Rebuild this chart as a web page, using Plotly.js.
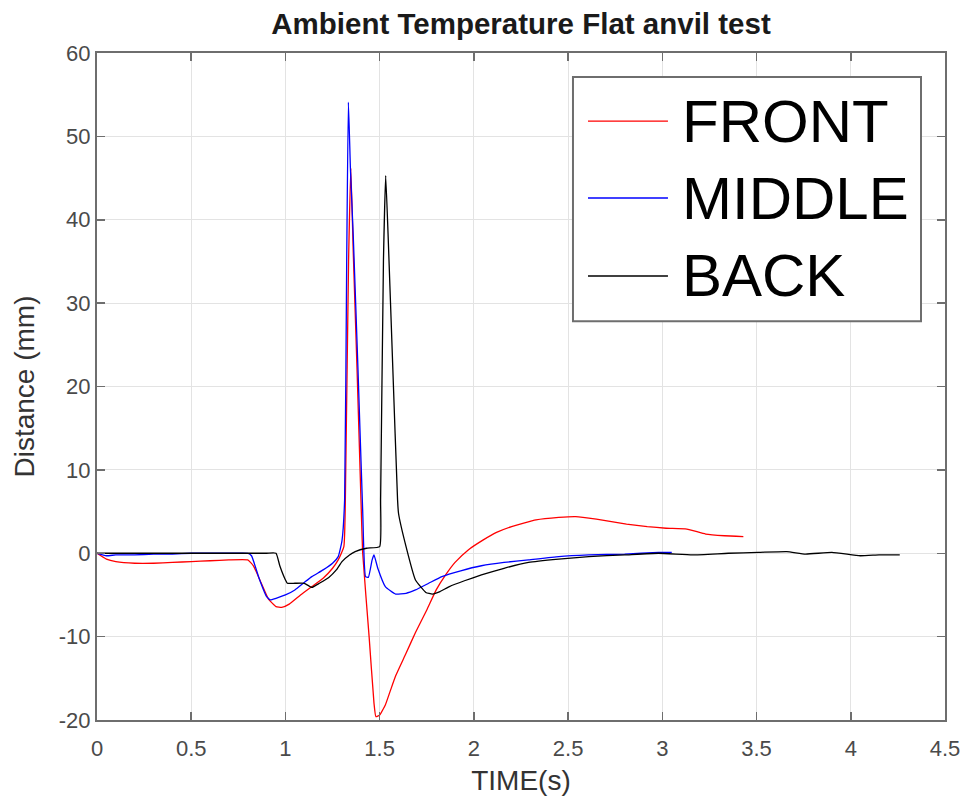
<!DOCTYPE html>
<html>
<head>
<meta charset="utf-8">
<script src="https://cdn.plot.ly/plotly-3.0.1.min.js"></script>
<style>html,body{margin:0;padding:0;background:#fff;}#chart{width:966px;height:798px;}</style>
</head>
<body>
<div id="chart"></div>
<script>
var seriesNames = ["FRONT", "MIDDLE", "BACK"];
var seriesColors = ["#ff0000", "#0000ff", "#000000"];

var frontX = [0,0.05,0.1,0.2,0.3,0.4,0.5,0.6,0.7,0.8,0.83,0.87,0.91,0.95,0.98,1.02,1.08,1.14,1.2,1.25,1.28,1.31,1.32,1.335,1.347,1.36,1.38,1.40,1.41,1.444,1.47,1.48,1.5,1.53,1.555,1.585,1.64,1.69,1.75,1.8,1.85,1.9,1.97,2.05,2.12,2.2,2.33,2.45,2.54,2.65,2.81,2.92,3.02,3.13,3.23,3.33,3.43];
var frontY = [0,-0.7,-1.0,-1.2,-1.2,-1.1,-1.0,-0.9,-0.8,-0.8,-1.5,-3.5,-5.5,-6.4,-6.5,-6.1,-5.0,-4.0,-3.0,-1.8,-0.8,0.8,10,35,46.2,36,22,7,0,-10,-18,-19.6,-19.4,-18.2,-16.6,-14.7,-12,-9.5,-6.8,-4.4,-2.6,-1.1,0.4,1.6,2.5,3.2,4.0,4.3,4.4,4.1,3.5,3.2,3.0,2.9,2.3,2.1,2.0];

var middleX = [0,0.05,0.1,0.2,0.3,0.4,0.5,0.6,0.7,0.8,0.82,0.86,0.9,0.92,0.95,1.0,1.05,1.1,1.14,1.2,1.25,1.28,1.30,1.314,1.325,1.334,1.345,1.36,1.385,1.41,1.425,1.44,1.46,1.47,1.49,1.53,1.585,1.64,1.69,1.76,1.83,1.93,2.04,2.16,2.29,2.45,2.61,2.8,2.98,3.05];
var middleY = [0,-0.3,-0.2,-0.2,-0.1,-0.1,0,0,0,0,-0.3,-3.0,-5.2,-5.6,-5.4,-5.0,-4.4,-3.5,-2.8,-2.0,-1.2,-0.4,1.5,6.4,35,54.1,46,38,22,5,-2.8,-2.9,-0.8,-0.2,-1.8,-4.0,-4.9,-4.8,-4.4,-3.6,-2.8,-2.1,-1.5,-1.1,-0.8,-0.4,-0.2,-0.1,0.1,0.1];

var backX = [0,0.3,0.6,0.9,0.95,0.97,1.0,1.01,1.05,1.10,1.14,1.18,1.23,1.27,1.30,1.34,1.37,1.43,1.50,1.505,1.52,1.532,1.545,1.57,1.595,1.60,1.64,1.69,1.745,1.78,1.82,1.87,1.95,2.04,2.16,2.29,2.45,2.61,2.8,2.98,3.16,3.35,3.51,3.66,3.76,3.9,4.05,4.15,4.26];
var backY = [0,0,0,0,0,-1.5,-3.2,-3.6,-3.6,-3.6,-4.1,-3.6,-2.9,-2.0,-1.0,-0.2,0.2,0.6,0.8,6.4,35,45.3,38,22,6.4,4.8,0.8,-3.2,-4.7,-4.9,-4.6,-4.0,-3.3,-2.6,-1.8,-1.1,-0.7,-0.4,-0.2,0.0,-0.2,0.0,0.1,0.2,-0.1,0.1,-0.3,-0.2,-0.2];

var xTicks = [0,0.5,1,1.5,2,2.5,3,3.5,4,4.5];
var xTickLabels = ["0","0.5","1","1.5","2","2.5","3","3.5","4","4.5"];
var yTicks = [-20,-10,0,10,20,30,40,50,60];
var yTickLabels = ["-20","-10","0","10","20","30","40","50","60"];

var xs = [frontX, middleX, backX];
var ys = [frontY, middleY, backY];
var traces = seriesNames.map(function(n, i){
  return {x: xs[i], y: ys[i], name: n, type: 'scatter', mode: 'lines',
          line: {color: seriesColors[i], width: 1.3, shape: 'spline', smoothing: 0.4}, showlegend: false};
});

var FONT = "Liberation Sans, Arial, Helvetica, sans-serif";
var axisCommon = {
  showgrid: true, gridcolor: '#e3e3e3', gridwidth: 1,
  zeroline: false, showline: true, linecolor: '#6e6e6e', linewidth: 2,
  mirror: 'ticks', ticks: 'inside', ticklen: 8, tickwidth: 1.5, tickcolor: '#6e6e6e',
  tickfont: {family: FONT, size: 22, color: '#4a4a4a'}
};

// manual legend (box, sample lines, labels) in paper coordinates
var legBox = {x0: 0.5613, x1: 0.9717, y0: 0.598, y1: 0.964};
var legLineX = [0.579, 0.6733];
var legRowY = [0.898, 0.7826, 0.6657];
var legTextX = 0.6875;

var shapes = [{type: 'rect', xref: 'paper', yref: 'paper', x0: legBox.x0, x1: legBox.x1, y0: legBox.y0, y1: legBox.y1,
  line: {color: '#6e6e6e', width: 2}, fillcolor: '#ffffff', layer: 'above'}];
var annotations = [];
seriesNames.forEach(function(n, i){
  shapes.push({type: 'line', xref: 'paper', yref: 'paper', x0: legLineX[0], x1: legLineX[1], y0: legRowY[i], y1: legRowY[i],
    line: {color: seriesColors[i], width: 1.3}, layer: 'above'});
  annotations.push({xref: 'paper', yref: 'paper', x: legTextX, y: legRowY[i], xanchor: 'left', yanchor: 'middle',
    text: n, showarrow: false, font: {family: FONT, size: 60, color: '#000000'}});
});

var layout = {
  width: 966, height: 798,
  margin: {l: 97, r: 21, t: 53, b: 78},
  paper_bgcolor: '#ffffff', plot_bgcolor: '#ffffff',
  title: {text: '<b>Ambient Temperature Flat anvil test</b>', x: 0.5, xref: 'paper', y: 1 - 24/798, yref: 'container', yanchor: 'middle',
    font: {family: FONT, size: 29.5, color: '#1a1a1a'}},
  xaxis: Object.assign({}, axisCommon, {range: [0, 4.5], tickvals: xTicks, ticktext: xTickLabels, ticklabelstandoff: 8,
    title: {text: 'TIME(s)', font: {family: FONT, size: 28, color: '#333333'}, standoff: 10}}),
  yaxis: Object.assign({}, axisCommon, {range: [-20, 60], tickvals: yTicks, ticktext: yTickLabels,
    title: {text: 'Distance (mm)', font: {family: FONT, size: 28, color: '#333333'}, standoff: 16}}),
  shapes: shapes,
  annotations: annotations,
  showlegend: false
};
Plotly.newPlot('chart', traces, layout, {staticPlot: true});
</script>
</body>
</html>
